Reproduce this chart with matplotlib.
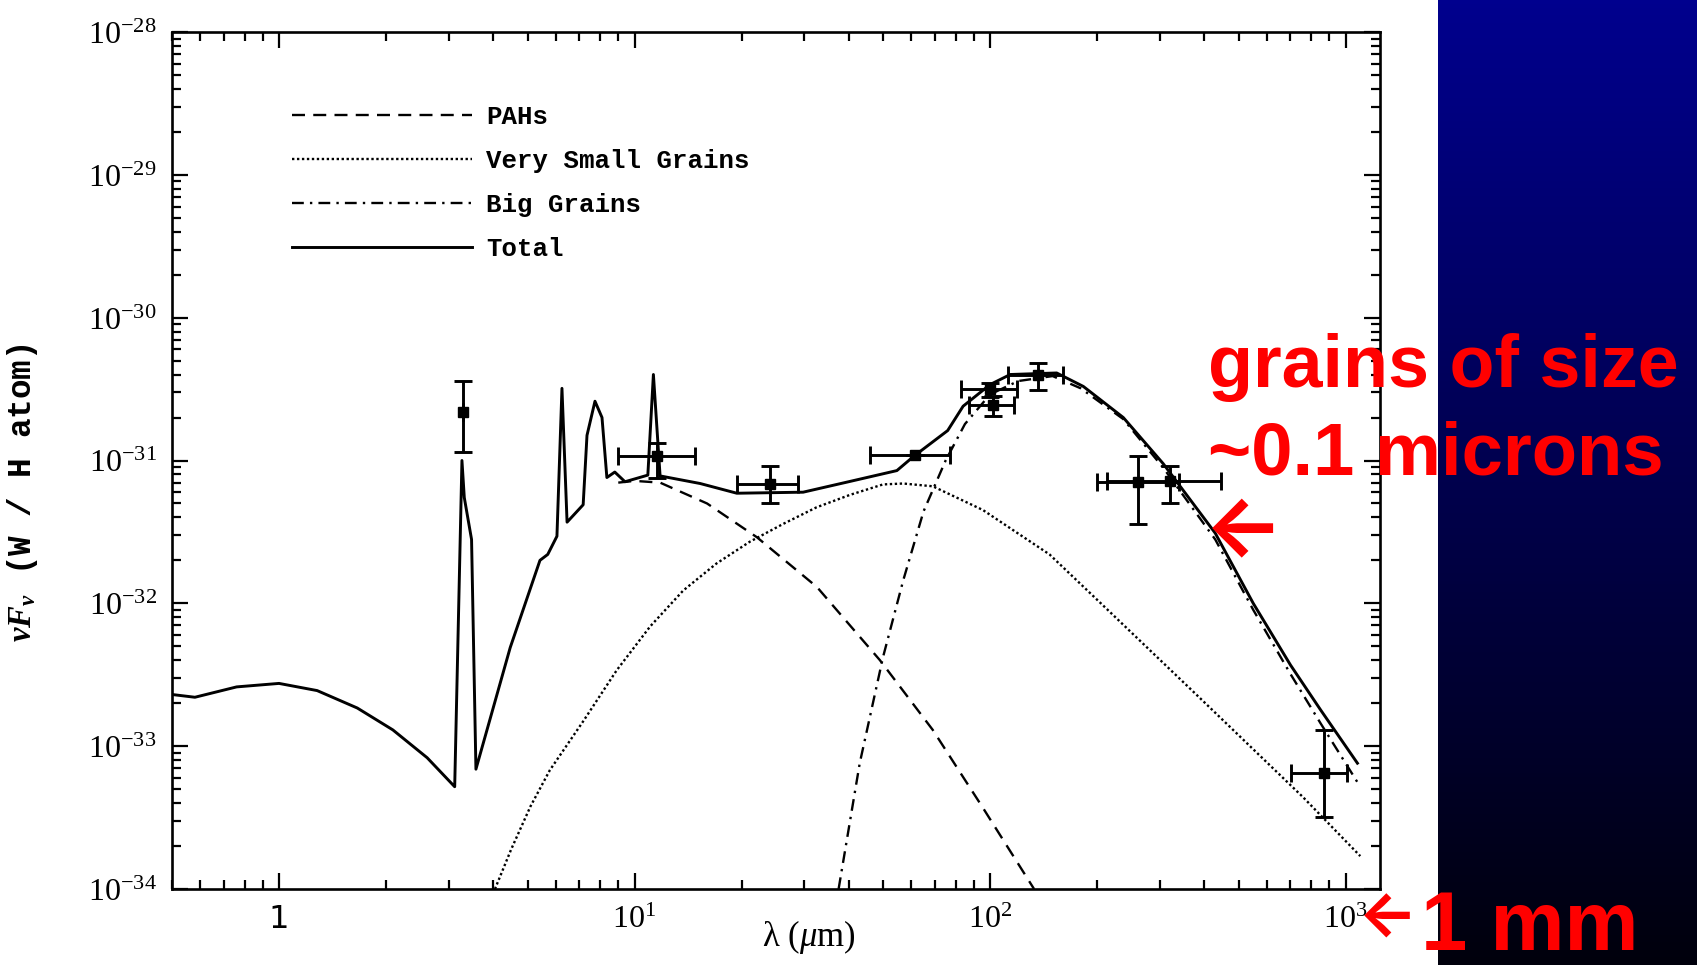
import numpy as np
import matplotlib.pyplot as plt
from matplotlib.lines import Line2D
from matplotlib.ticker import LogLocator, NullFormatter
from matplotlib.colors import LinearSegmentedColormap

plt.rcParams['mathtext.fontset'] = 'custom'
plt.rcParams['mathtext.rm'] = 'Liberation Serif'
plt.rcParams['mathtext.it'] = 'Liberation Serif:italic'
plt.rcParams['mathtext.bf'] = 'Liberation Serif:bold'
plt.rcParams['mathtext.bfit'] = 'Liberation Serif:italic:bold'

# --- model curves (wavelength in micron, nu F_nu in W / H atom) ---
total_wl = [0.5, 0.58, 0.76, 1.0, 1.28, 1.66, 2.09, 2.61, 3.12, 3.27, 3.32, 3.48,
            3.58, 4.47, 5.42, 5.7, 6.05, 6.25, 6.46, 7.17, 7.35, 7.74, 8.1, 8.36,
            8.8, 9.4, 10.9, 11.3, 11.8, 15.3, 19.4, 29.8, 40, 54.7, 61, 76, 84,
            100, 114, 154, 183, 237, 307, 430, 550, 700, 850, 1080]
total_flux = [2.3e-33, 2.2e-33, 2.6e-33, 2.75e-33, 2.45e-33, 1.85e-33, 1.3e-33,
              8.3e-34, 5.2e-34, 1.0e-31, 5.5e-32, 2.8e-32, 6.9e-34, 4.9e-33,
              2.0e-32, 2.2e-32, 2.95e-32, 3.2e-31, 3.7e-32, 4.9e-32, 1.5e-31,
              2.6e-31, 2.0e-31, 7.6e-32, 8.3e-32, 7.1e-32, 7.9e-32, 4.0e-31,
              7.8e-32, 6.9e-32, 5.9e-32, 6.0e-32, 7.1e-32, 8.5e-32, 1.07e-31,
              1.62e-31, 2.4e-31, 3.4e-31, 4.0e-31, 4.1e-31, 3.3e-31, 2.0e-31,
              9.5e-32, 3.1e-32, 1.0e-32, 3.7e-33, 1.8e-33, 7.6e-34]

pah_wl = [9.0, 10, 11.8, 16, 22.1, 32.6, 49, 69, 95.5, 133]
pah_flux = [7.0e-32, 7.2e-32, 7.0e-32, 5.0e-32, 2.9e-32, 1.3e-32, 4.0e-33,
            1.3e-33, 3.7e-34, 1.0e-34]

vsg_wl = [4.05, 4.5, 5.1, 5.78, 7.18, 8.91, 11.07, 13.71, 17.0, 21.1, 26.2,
          32.5, 40.4, 50, 57, 69, 95.5, 147, 205, 395, 759, 1100]
vsg_flux = [1.0e-34, 1.9e-34, 3.8e-34, 6.8e-34, 1.5e-33, 3.4e-33, 6.9e-33,
            1.23e-32, 1.9e-32, 2.7e-32, 3.6e-32, 4.7e-32, 5.75e-32, 6.8e-32,
            6.9e-32, 6.6e-32, 4.5e-32, 2.2e-32, 1.0e-32, 2.1e-33, 4.4e-34,
            1.7e-34]

bg_wl = [37.5, 43, 50, 57, 65, 75, 85, 100, 120, 150, 180, 237, 307, 430, 550,
         700, 850, 1100]
bg_flux = [1.0e-34, 7.6e-34, 4.2e-33, 1.45e-32, 4.4e-32, 1.0e-31, 1.8e-31,
           2.9e-31, 3.6e-31, 3.9e-31, 3.2e-31, 1.95e-31, 8.9e-32, 2.8e-32,
           9.0e-33, 3.2e-33, 1.45e-33, 5.2e-34]

# --- observations ---
obs_wl = [3.3, 11.6, 24, 61.5, 100, 102, 136, 260, 320, 870]
obs_wl_lo = [3.3, 9.0, 19.4, 46, 83, 87, 112, 200, 213, 703]
obs_wl_hi = [3.3, 14.8, 28.8, 77, 119, 117, 160, 340, 445, 1010]
obs_flux = [2.2e-31, 1.08e-31, 6.8e-32, 1.1e-31, 3.15e-31, 2.45e-31, 4.0e-31,
            7.1e-32, 7.2e-32, 6.5e-34]
obs_flux_lo = [1.15e-31, 7.6e-32, 5.0e-32, 1.1e-31, 2.8e-31, 2.05e-31, 3.1e-31,
               3.6e-32, 5.0e-32, 3.2e-34]
obs_flux_hi = [3.6e-31, 1.32e-31, 9.1e-32, 1.1e-31, 3.5e-31, 2.85e-31, 4.8e-31,
               1.07e-31, 9.1e-32, 1.3e-33]

x_ticks = [1, 10, 100, 1000]
x_tick_labels = ['1', r'$10^{1}$', r'$10^{2}$', r'$10^{3}$']
y_ticks = [1e-34, 1e-33, 1e-32, 1e-31, 1e-30, 1e-29, 1e-28]
y_tick_labels = [r'$10^{-34}$', r'$10^{-33}$', r'$10^{-32}$', r'$10^{-31}$',
                 r'$10^{-30}$', r'$10^{-29}$', r'$10^{-28}$']

legend_labels = ['PAHs', 'Very Small Grains', 'Big Grains', 'Total']

W, H = 1697, 965
fig = plt.figure(figsize=(W / 100, H / 100), dpi=100)
fig.patch.set_facecolor('white')

ax = fig.add_axes([172 / W, 76 / H, (1380 - 172) / W, (889 - 32) / H])
ax.set_xscale('log')
ax.set_yscale('log')
ax.set_xlim(0.5, 1250)
ax.set_ylim(1e-34, 1e-28)

pah_style = dict(color='black', lw=1.7, dashes=(5.5, 3.5))
vsg_style = dict(color='black', lw=1.7, dashes=(1.0, 1.1))
bg_style = dict(color='black', lw=1.7, dashes=(5.0, 2.6, 1.0, 2.6))
tot_style = dict(color='black', lw=2.1, ls='-')

ax.plot(pah_wl, pah_flux, **pah_style)
ax.plot(vsg_wl, vsg_flux, **vsg_style)
ax.plot(bg_wl, bg_flux, **bg_style)
ax.plot(total_wl, total_flux, **tot_style)

obs_wl_a = np.array(obs_wl)
obs_flux_a = np.array(obs_flux)
xerr = [obs_wl_a - np.array(obs_wl_lo), np.array(obs_wl_hi) - obs_wl_a]
yerr = [obs_flux_a - np.array(obs_flux_lo), np.array(obs_flux_hi) - obs_flux_a]
ax.errorbar(obs_wl, obs_flux, xerr=xerr, yerr=yerr, fmt='s', color='black',
            ms=7, elinewidth=2.1, capsize=6.5, capthick=2.1, zorder=5)

# axes styling
for sp in ax.spines.values():
    sp.set_linewidth(1.9)
ax.xaxis.set_minor_locator(LogLocator(base=10, subs=np.arange(2, 10)))
ax.yaxis.set_minor_locator(LogLocator(base=10, subs=np.arange(2, 10), numticks=20))
ax.xaxis.set_minor_formatter(NullFormatter())
ax.yaxis.set_minor_formatter(NullFormatter())
ax.tick_params(which='both', direction='in', top=True, right=True, width=1.6)
ax.tick_params(which='major', length=11.5)
ax.tick_params(which='minor', length=6.5)
ax.tick_params(axis='x', which='major', pad=28, labelsize=23)
ax.tick_params(axis='y', which='major', pad=11, labelsize=23)

ax.set_xticks(x_ticks)
for lab in ax.set_xticklabels(x_tick_labels):
    lab.set_verticalalignment('baseline')
ax.set_yticks(y_ticks)
ax.set_yticklabels(y_tick_labels)

ax.set_xlabel('λ (' + r'$\mu$' + 'm)', family='Liberation Serif', fontsize=25,
              va='center')
ax.xaxis.set_label_coords(0.527, -0.056)
ax.set_ylabel(r'$\mathbfit{\nu F_\nu}$' + ' (W / H atom)', family='Liberation Mono',
              fontweight='bold', fontsize=23.5, va='center')
ax.yaxis.set_label_coords(-0.124, 0.462)

handles = [Line2D([], [], **pah_style), Line2D([], [], **vsg_style),
           Line2D([], [], **bg_style), Line2D([], [], **tot_style)]
ax.legend(handles, legend_labels, loc='upper left',
          bbox_to_anchor=(292 / W, (H - 105) / H), bbox_transform=fig.transFigure,
          frameon=False, borderpad=0, borderaxespad=0, handlelength=7.0,
          handletextpad=0.55, labelspacing=0.78,
          prop={'family': 'Liberation Mono', 'weight': 'bold', 'size': 18.5})

# blue slide panel on the right
bax = fig.add_axes([1438 / W, 0, (W - 1438) / W, 1])
cmap = LinearSegmentedColormap.from_list('slide', ['#00008e', '#00000c'])
bax.imshow(np.linspace(0, 1, 256).reshape(-1, 1), aspect='auto', cmap=cmap,
           extent=[0, 1, 0, 1], origin='upper')
bax.set_axis_off()

# red annotations
red = dict(color='#ff0000', fontweight='bold',
           family=['Liberation Sans', 'DejaVu Sans'], va='baseline', ha='left',
           zorder=10)
arrow = dict(color='#ff0000', fontweight='bold', family=['Inter', 'DejaVu Sans'],
             va='baseline', ha='left', zorder=10)
fig.text(1208 / W, (H - 387) / H, 'grains of size', fontsize=53, **red)
fig.text(1208 / W, (H - 474) / H, '~0.1 microns', fontsize=53.5, **red)
fig.text(1421 / W, (H - 950) / H, '1 mm', fontsize=60, **red)
fig.text(1204 / W, (H - 555) / H, '←', fontsize=60, **arrow)
fig.text(1358 / W, (H - 936) / H, '←', fontsize=45, **arrow)

fig.savefig('out.png', dpi=100)
